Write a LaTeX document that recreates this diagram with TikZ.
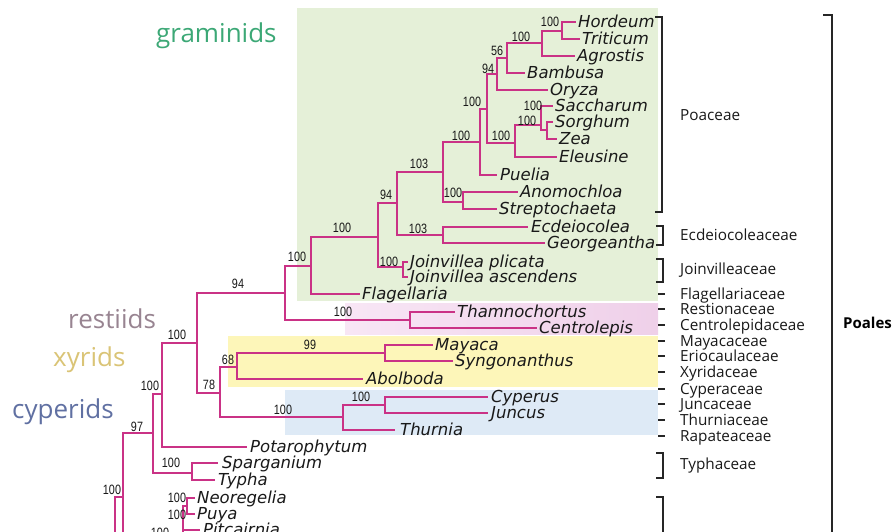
\documentclass[tikz,border=0pt]{standalone}
\usepackage{fontspec}
\setmainfont{Open Sans}
\newfontfamily\taxfont{DejaVu Sans}
\newfontfamily\numfont{Liberation Sans}[FakeStretch=0.8]
\definecolor{brc}{RGB}{202,50,134}
\definecolor{bggreen}{RGB}{229,240,216}
\definecolor{bgpinkL}{RGB}{248,230,245}
\definecolor{bgpinkR}{RGB}{239,208,233}
\definecolor{bgyellow}{RGB}{253,246,185}
\definecolor{bgblue}{RGB}{222,234,246}
\definecolor{cgram}{RGB}{60,168,118}
\definecolor{crest}{RGB}{152,132,145}
\definecolor{cxyr}{RGB}{218,196,118}
\definecolor{ccyp}{RGB}{96,112,162}
\tikzset{
  branch/.style={draw=brc, line width=1.8pt},
  tax/.style={anchor=base west, inner sep=0pt, text=black!90, font=\taxfont\itshape\fontsize{16.5}{16.5}\selectfont},
  bs/.style={inner sep=0pt, text=black!90, font=\numfont\fontsize{13.5}{13.5}\selectfont},
  fam/.style={anchor=base west, inner sep=0pt, text=black!90, font=\fontsize{15.3}{15.3}\selectfont},
  grp/.style={anchor=base west, inner sep=0pt, font=\fontsize{26}{26}\selectfont},
  brk/.style={draw=black!85, line width=1.3pt},
  famdash/.style={draw=black!85, line width=2pt},
}
\newcommand\mytip[5]{\coordinate (#1) at (#2,#3); \node[tax] (#1-l) at (#4,#3+5) {#5};}
\newcommand\myedge[2]{\draw[branch] (#1) |- (#2);}
\newcommand\myfam[3]{\node[fam] (#1) at (680,#2+5) {#3};}
\begin{document}
\begin{tikzpicture}[x=1pt,y=-1pt]
\useasboundingbox (0,0) rectangle (893,531);
\fill[white] (0,0) rectangle (893,531);
% clade backgrounds
\fill[bggreen] (297,8) rectangle (658,301);
\shade[left color=bgpinkL, right color=bgpinkR] (345,303) rectangle (658,334);
\fill[bgyellow] (228,336) rectangle (658,387);
\fill[bgblue] (285,390) rectangle (658,435);
% group labels
\node[grp, text=cgram] (lgram) at (156,42) {graminids};
\node[grp, text=crest] (lrest) at (68,328) {restiids};
\node[grp, text=cxyr] (lxyr) at (53,366) {xyrids};
\node[grp, text=ccyp] (lcyp) at (12,418) {cyperids};
% tips
\mytip{Hordeum}{576}{22}{578}{Hordeum}
\mytip{Triticum}{580}{39}{582}{Triticum}
\mytip{Agrostis}{575}{56}{577}{Agrostis}
\mytip{Bambusa}{525}{73}{527}{Bambusa}
\mytip{Oryza}{548}{90}{550}{Oryza}
\mytip{Saccharum}{553}{106}{555}{Saccharum}
\mytip{Sorghum}{553}{122}{555}{Sorghum}
\mytip{Zea}{557}{139}{559}{Zea}
\mytip{Eleusine}{557}{157}{559}{Eleusine}
\mytip{Puella}{497}{175}{500}{Puelia}
\mytip{Anomochloa}{518}{192}{520}{Anomochloa}
\mytip{Streptochaeta}{497}{209}{499}{Streptochaeta}
\mytip{Ecdeiocolea}{528}{227}{531}{Ecdeiocolea}
\mytip{Georgeantha}{545}{243}{547}{Georgeantha}
\mytip{Jplicata}{408}{262}{410}{Joinvillea plicata}
\mytip{Jascendens}{408}{277}{410}{Joinvillea ascendens}
\mytip{Flagellaria}{360}{294}{362}{Flagellaria}
\mytip{Thamnochortus}{455}{312}{457}{Thamnochortus}
\mytip{Centrolepis}{537}{328}{539}{Centrolepis}
\mytip{Mayaca}{433}{345}{435}{Mayaca}
\mytip{Syngonanthus}{453}{361}{455}{Syngonanthus}
\mytip{Abolboda}{363}{379}{366}{Abolboda}
\mytip{Cyperus}{488}{397}{491}{Cyperus}
\mytip{Juncus}{488}{413}{491}{Juncus}
\mytip{Thurnia}{395}{430}{400}{Thurnia}
\mytip{Potarophytum}{247}{447}{250}{Potarophytum}
\mytip{Sparganium}{218}{463}{222}{Sparganium}
\mytip{Typha}{215}{480}{218}{Typha}
\mytip{Neoregelia}{195}{498}{197}{Neoregelia}
\mytip{Puya}{195}{514}{197}{Puya}
\mytip{Pitcairnia}{200}{530}{203}{Pitcairnia}
% internal nodes
\coordinate (HT) at (562,31);
\coordinate (HTA) at (542,43);
\coordinate (BP) at (507,58);
\coordinate (BOP) at (497,74);
\coordinate (SZ) at (547,130);
\coordinate (SSZ) at (541,125);
\coordinate (PAC) at (515,143);
\coordinate (X) at (487,109);
\coordinate (Y) at (480,142);
\coordinate (AS) at (463,202);
\coordinate (Z) at (443,172);
\coordinate (EG) at (443,235);
\coordinate (W) at (397,203);
\coordinate (J) at (403,267);
\coordinate (V) at (378,237);
\coordinate (U) at (311,266);
\coordinate (TC) at (410,320);
\coordinate (T) at (285,293);
\coordinate (MS) at (385,353);
\coordinate (P) at (237,367);
\coordinate (CJ) at (385,405);
\coordinate (C) at (343,417);
\coordinate (Q) at (220,393);
\coordinate (S) at (197,343);
\coordinate (R) at (162,394);
\coordinate (TY) at (192,473);
\coordinate (O) at (153,433);
\coordinate (N97) at (123,497);
\coordinate (N97low) at (123,545);
\coordinate (N100) at (115,545);
\coordinate (NP) at (187,506);
\coordinate (NPP) at (183,545);
% edges
\myedge{HT}{Hordeum}\myedge{HT}{Triticum}
\myedge{HTA}{HT}\myedge{HTA}{Agrostis}
\myedge{BP}{HTA}\myedge{BP}{Bambusa}
\myedge{BOP}{BP}\myedge{BOP}{Oryza}
\myedge{SZ}{Sorghum}\myedge{SZ}{Zea}
\myedge{SSZ}{Saccharum}\myedge{SSZ}{SZ}
\myedge{PAC}{SSZ}\myedge{PAC}{Eleusine}
\myedge{X}{BOP}\myedge{X}{PAC}
\myedge{Y}{X}\myedge{Y}{Puella}
\myedge{AS}{Anomochloa}\myedge{AS}{Streptochaeta}
\myedge{Z}{Y}\myedge{Z}{AS}
\myedge{EG}{Ecdeiocolea}\myedge{EG}{Georgeantha}
\myedge{W}{Z}\myedge{W}{EG}
\myedge{J}{Jplicata}\myedge{J}{Jascendens}
\myedge{V}{W}\myedge{V}{J}
\myedge{U}{V}\myedge{U}{Flagellaria}
\myedge{TC}{Thamnochortus}\myedge{TC}{Centrolepis}
\myedge{T}{U}\myedge{T}{TC}
\myedge{MS}{Mayaca}\myedge{MS}{Syngonanthus}
\myedge{P}{MS}\myedge{P}{Abolboda}
\myedge{CJ}{Cyperus}\myedge{CJ}{Juncus}
\myedge{C}{CJ}\myedge{C}{Thurnia}
\myedge{Q}{P}\myedge{Q}{C}
\myedge{S}{T}\myedge{S}{Q}
\myedge{R}{S}\myedge{R}{Potarophytum}
\myedge{TY}{Sparganium}\myedge{TY}{Typha}
\myedge{O}{R}\myedge{O}{TY}
\myedge{N97}{O}
\draw[branch] (N97) -- (N97low);
\myedge{N100}{N97}
\myedge{NP}{Neoregelia}\myedge{NP}{Puya}
\myedge{NPP}{NP}\myedge{NPP}{Pitcairnia}
% bootstrap values
\node[bs] (b1) at (550,22) {100};
\node[bs] (b2) at (521,37) {100};
\node[bs] (b3) at (497,51) {56};
\node[bs] (b4) at (488,69) {94};
\node[bs] (b5) at (472,102) {100};
\node[bs] (b6) at (533,106) {100};
\node[bs] (b7) at (527,121) {100};
\node[bs] (b8) at (501,136) {100};
\node[bs] (b9) at (461,136) {100};
\node[bs] (b10) at (419,164) {103};
\node[bs] (b11) at (386,195) {94};
\node[bs] (b12) at (453,193) {100};
\node[bs] (b13) at (418,229) {103};
\node[bs] (b14) at (389,262) {100};
\node[bs] (b15) at (342,228) {100};
\node[bs] (b16) at (297,257) {100};
\node[bs] (b17) at (238,284) {94};
\node[bs] (b18) at (343,312) {100};
\node[bs] (b19) at (177,335) {100};
\node[bs] (b20) at (209,385) {78};
\node[bs] (b21) at (228,360) {68};
\node[bs] (b22) at (310,345) {99};
\node[bs] (b23) at (283,410) {100};
\node[bs] (b24) at (361,397) {100};
\node[bs] (b25) at (150,386) {100};
\node[bs] (b26) at (137,427) {97};
\node[bs] (b27) at (171,463) {100};
\node[bs] (b28) at (112,490) {100};
\node[bs] (b29) at (177,498) {100};
\node[bs] (b30) at (177,515) {100};
\node[bs] (b31) at (160,533) {100};
% family brackets and dashes
\draw[brk] (655,17) -- (662,17) -- (662,212) -- (655,212);
\draw[brk] (656,226) -- (663,226) -- (663,245) -- (656,245);
\draw[brk] (656,259) -- (663,259) -- (663,282) -- (656,282);
\draw[brk] (656,453) -- (663,453) -- (663,478) -- (656,478);
\draw[brk] (656,497) -- (663,497) -- (663,540);
\foreach \yy in {294,309,325,341,356,372,389,404,420,436}
  \draw[famdash] (658,\yy) -- (665,\yy);
\draw[brk] (823,15) -- (832,15) -- (832,540);
% family names
\myfam{fPoa}{115}{Poaceae}
\myfam{fEcd}{235}{Ecdeiocoleaceae}
\myfam{fJoi}{269}{Joinvilleaceae}
\myfam{fFla}{294}{Flagellariaceae}
\myfam{fRes}{309}{Restionaceae}
\myfam{fCen}{325}{Centrolepidaceae}
\myfam{fMay}{341}{Mayacaceae}
\myfam{fEri}{356}{Eriocaulaceae}
\myfam{fXyr}{372}{Xyridaceae}
\myfam{fCyp}{389}{Cyperaceae}
\myfam{fJun}{404}{Juncaceae}
\myfam{fThu}{420}{Thurniaceae}
\myfam{fRap}{436}{Rapateaceae}
\myfam{fTyp}{464}{Typhaceae}
\node[anchor=base west, inner sep=0pt, font=\bfseries\fontsize{15}{15}\selectfont] (poales) at (843,328) {Poales};
\end{tikzpicture}
\end{document}
